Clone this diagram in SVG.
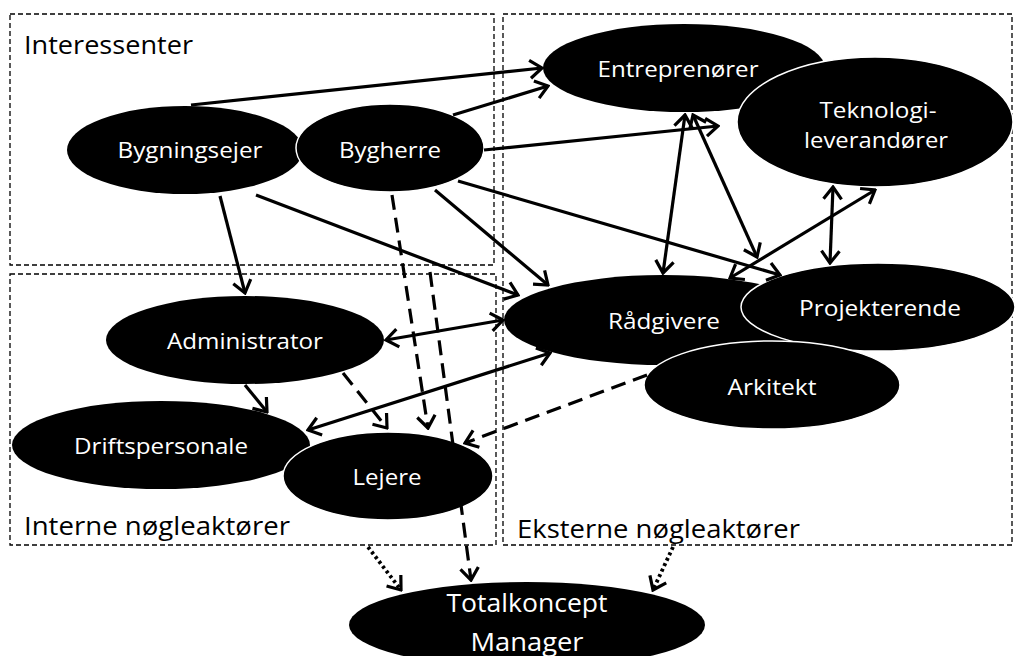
<svg xmlns="http://www.w3.org/2000/svg" width="1015" height="656" viewBox="0 0 1015 656">
<style>
.box{fill:none;stroke:#000;stroke-width:1.3;stroke-dasharray:5 3}
.rl{font-family:"Open Sans","Liberation Sans",sans-serif;font-size:26px;fill:#000}
.n{fill:#000}
.nw{fill:#000;stroke:#fff;stroke-width:1.5}
.t{font-family:"Open Sans","Liberation Sans",sans-serif;font-size:22.5px;fill:#fff;text-anchor:middle}
.c{fill:none;stroke:#000;stroke-width:3.2}
.d{stroke-dasharray:15 8}
.o{stroke-dasharray:3 3;stroke-width:3.8}
</style>
<defs>
<marker id="a" viewBox="0 0 16 22" refX="14" refY="11" markerWidth="16" markerHeight="22" markerUnits="userSpaceOnUse" orient="auto-start-reverse">
<path d="M2,2 L14,11 L2,20" fill="none" stroke="#000" stroke-width="3.2"/>
</marker>
</defs>
<g id="regions">
<rect class="box" x="10" y="14" width="484" height="251"/>
<rect class="box" x="10" y="274" width="486" height="271"/>
<rect class="box" x="503" y="14" width="509" height="531"/>
<text class="rl" x="24" y="54" textLength="169" lengthAdjust="spacingAndGlyphs">Interessenter</text>
<text class="rl" x="24" y="535" textLength="266" lengthAdjust="spacingAndGlyphs">Interne nøgleaktører</text>
<text class="rl" x="517" y="538" textLength="283" lengthAdjust="spacingAndGlyphs">Eksterne nøgleaktører</text>
</g>
<g id="bygningsejer"><ellipse class="n" cx="185" cy="150" rx="118" ry="44"/><text class="t" x="190" y="158" textLength="145" lengthAdjust="spacingAndGlyphs">Bygningsejer</text></g>
<g id="bygherre"><ellipse class="nw" cx="390" cy="148" rx="94" ry="44"/><text class="t" x="390" y="158" textLength="102" lengthAdjust="spacingAndGlyphs">Bygherre</text></g>
<g id="entreprenorer"><ellipse class="n" cx="684" cy="68" rx="141" ry="44"/><text class="t" x="678" y="77" textLength="161" lengthAdjust="spacingAndGlyphs">Entreprenører</text></g>
<g id="teknologi"><ellipse class="nw" cx="875" cy="122" rx="138" ry="65"/><text class="t" x="878" y="118" textLength="117" lengthAdjust="spacingAndGlyphs">Teknologi-</text><text class="t" x="876" y="148" textLength="144" lengthAdjust="spacingAndGlyphs">leverandører</text></g>
<g id="radgivere"><ellipse class="n" cx="663" cy="320" rx="159" ry="45"/><text class="t" x="664" y="329" textLength="112" lengthAdjust="spacingAndGlyphs">Rådgivere</text></g>
<g id="projekterende"><ellipse class="nw" cx="878" cy="307" rx="137" ry="44"/><text class="t" x="880" y="316" textLength="162" lengthAdjust="spacingAndGlyphs">Projekterende</text></g>
<g id="arkitekt"><ellipse class="nw" cx="772" cy="385" rx="128" ry="44"/><text class="t" x="772" y="395" textLength="89" lengthAdjust="spacingAndGlyphs">Arkitekt</text></g>
<g id="administrator"><ellipse class="n" cx="245" cy="340" rx="139" ry="44"/><text class="t" x="245" y="349" textLength="156" lengthAdjust="spacingAndGlyphs">Administrator</text></g>
<g id="driftspersonale"><ellipse class="n" cx="161" cy="445" rx="149" ry="44"/><text class="t" x="161" y="454" textLength="174" lengthAdjust="spacingAndGlyphs">Driftspersonale</text></g>
<g id="lejere"><ellipse class="nw" cx="388" cy="476" rx="105" ry="44"/><text class="t" x="387" y="485" textLength="69" lengthAdjust="spacingAndGlyphs">Lejere</text></g>
<g id="totalkoncept"><ellipse class="n" cx="527" cy="625" rx="178" ry="43"/><text class="t" x="527" y="612" style="font-size:25px" textLength="161" lengthAdjust="spacingAndGlyphs">Totalkoncept</text><text class="t" x="527" y="651" style="font-size:25px" textLength="113" lengthAdjust="spacingAndGlyphs">Manager</text></g>
<g id="connectors">
<line class="c" x1="191" y1="105" x2="542" y2="68" marker-end="url(#a)"/>
<line class="c" x1="453" y1="115" x2="548" y2="86" marker-end="url(#a)"/>
<line class="c" x1="484" y1="150" x2="718" y2="126" marker-end="url(#a)"/>
<line class="c" x1="458" y1="181" x2="780" y2="275" marker-end="url(#a)"/>
<line class="c" x1="435" y1="190" x2="548" y2="285" marker-end="url(#a)"/>
<line class="c" x1="256" y1="195" x2="518" y2="295" marker-end="url(#a)"/>
<line class="c" x1="220" y1="196" x2="245" y2="293" marker-end="url(#a)"/>
<line class="c" x1="386" y1="340" x2="503" y2="320" marker-start="url(#a)" marker-end="url(#a)"/>
<line class="c" x1="308" y1="430" x2="550" y2="353" marker-start="url(#a)" marker-end="url(#a)"/>
<line class="c" x1="245" y1="385" x2="267" y2="412" marker-end="url(#a)"/>
<line class="c" x1="685" y1="115" x2="663" y2="273" marker-start="url(#a)" marker-end="url(#a)"/>
<line class="c" x1="693" y1="115" x2="757" y2="257" marker-start="url(#a)" marker-end="url(#a)"/>
<line class="c" x1="730" y1="278" x2="875" y2="190" marker-start="url(#a)" marker-end="url(#a)"/>
<line class="c" x1="833" y1="187" x2="830" y2="263" marker-start="url(#a)" marker-end="url(#a)"/>
<line class="c d" x1="392" y1="195" x2="428" y2="428" marker-end="url(#a)"/>
<line class="c d" x1="430" y1="272" x2="471" y2="580" marker-end="url(#a)"/>
<line class="c d" x1="343" y1="373" x2="387" y2="428" marker-end="url(#a)"/>
<line class="c d" x1="647" y1="375" x2="465" y2="443" marker-end="url(#a)"/>
<line class="c o" x1="368" y1="547" x2="401" y2="590" marker-end="url(#a)"/>
<line class="c o" x1="673" y1="547" x2="653" y2="590" marker-end="url(#a)"/>
</g>
</svg>
